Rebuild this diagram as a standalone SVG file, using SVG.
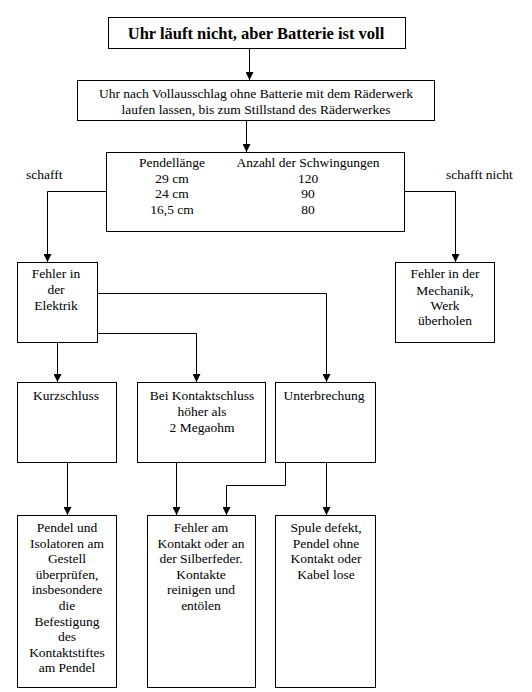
<svg xmlns="http://www.w3.org/2000/svg" width="532" height="692" viewBox="0 0 532 692" font-family="'Liberation Serif', 'Times New Roman', 'DejaVu Serif', serif">
<defs>
<marker id="ah" markerWidth="8" markerHeight="8" refX="8" refY="4" orient="auto" markerUnits="userSpaceOnUse" viewBox="0 0 8 8">
<path d="M0,0 L8,4 L0,8 Z" fill="#000"/>
</marker>
</defs>
<style>
rect{fill:#fff;stroke:#000;stroke-width:1}
text{font-family:'Liberation Serif','Times New Roman','DejaVu Serif',serif;font-size:13.5px;fill:#000;text-anchor:middle}
.t{font-size:16.5px;font-weight:bold}
.l{text-anchor:start}
.c{fill:none;stroke:#000;stroke-width:1}
</style>
<rect width="532" height="692" style="fill:#fff;stroke:none"/>
<g id="n1">
<rect x="108.5" y="17.5" width="297" height="31"/>
<text class="t" x="256" y="39">Uhr läuft nicht, aber Batterie ist voll</text>
</g>
<g id="n2">
<rect x="77.5" y="80.5" width="357" height="40"/>
<text x="256" y="97.5">Uhr nach Vollausschlag ohne Batterie mit dem Räderwerk</text>
<text x="256" y="113.5">laufen lassen, bis zum Stillstand des Räderwerkes</text>
</g>
<g id="n3">
<rect x="106.5" y="152.5" width="298" height="79"/>
<text x="172" y="167">Pendellänge</text>
<text x="172" y="183">29 cm</text>
<text x="172" y="198">24 cm</text>
<text x="172" y="214">16,5 cm</text>
<text x="308" y="167">Anzahl der Schwingungen</text>
<text x="308" y="183">120</text>
<text x="308" y="198">90</text>
<text x="308" y="214">80</text>
</g>
<g id="lbl-schafft"><text class="l" x="26" y="179">schafft</text></g>
<g id="lbl-schafft-nicht"><text class="l" x="446" y="179">schafft nicht</text></g>
<g id="n-elektrik">
<rect x="17.5" y="262.5" width="80" height="80"/>
<text x="56" y="278">Fehler in</text>
<text x="56" y="294">der</text>
<text x="56" y="310">Elektrik</text>
</g>
<g id="n-mechanik">
<rect x="395.5" y="262.5" width="99" height="80"/>
<text x="445" y="278">Fehler in der</text>
<text x="445" y="295">Mechanik,</text>
<text x="445" y="310">Werk</text>
<text x="445" y="325">überholen</text>
</g>
<g id="n-kurz">
<rect x="17.5" y="382.5" width="99" height="80"/>
<text x="66" y="400">Kurzschluss</text>
</g>
<g id="n-kontakt">
<rect x="137.5" y="382.5" width="128" height="80"/>
<text x="202" y="400">Bei Kontaktschluss</text>
<text x="202" y="416">höher als</text>
<text x="202" y="432">2 Megaohm</text>
</g>
<g id="n-unter">
<rect x="275.5" y="382.5" width="100" height="80"/>
<text x="324" y="400">Unterbrechung</text>
</g>
<g id="n-pendel">
<rect x="17.5" y="515.5" width="99" height="172"/>
<text x="67" y="532">Pendel und</text>
<text x="67" y="547.6">Isolatoren am</text>
<text x="67" y="563.2">Gestell</text>
<text x="67" y="578.8">überprüfen,</text>
<text x="67" y="594.4">insbesondere</text>
<text x="67" y="610">die</text>
<text x="67" y="625.6">Befestigung</text>
<text x="67" y="641.2">des</text>
<text x="67" y="656.8">Kontaktstiftes</text>
<text x="67" y="672.4">am Pendel</text>
</g>
<g id="n-fehleram">
<rect x="147.5" y="515.5" width="108" height="172"/>
<text x="201" y="532">Fehler am</text>
<text x="201" y="547.6">Kontakt oder an</text>
<text x="201" y="563.2">der Silberfeder.</text>
<text x="201" y="578.8">Kontakte</text>
<text x="201" y="594.4">reinigen und</text>
<text x="201" y="610">entölen</text>
</g>
<g id="n-spule">
<rect x="275.5" y="515.5" width="100" height="172"/>
<text x="326" y="532">Spule defekt,</text>
<text x="326" y="547.6">Pendel ohne</text>
<text x="326" y="563.2">Kontakt oder</text>
<text x="326" y="578.8">Kabel lose</text>
</g>
<g id="connectors">
<path class="c" d="M249.5,49 V80" marker-end="url(#ah)"/>
<path class="c" d="M246.5,121 V152" marker-end="url(#ah)"/>
<path class="c" d="M106,191.5 H47.5 V262" marker-end="url(#ah)"/>
<path class="c" d="M405,191.5 H455.5 V262" marker-end="url(#ah)"/>
<path class="c" d="M97,293.5 H326.5 V382" marker-end="url(#ah)"/>
<path class="c" d="M97,333.5 H196.5 V382" marker-end="url(#ah)"/>
<path class="c" d="M57.5,343 V382" marker-end="url(#ah)"/>
<path class="c" d="M67.5,463 V515" marker-end="url(#ah)"/>
<path class="c" d="M176.5,463 V515" marker-end="url(#ah)"/>
<path class="c" d="M285.5,463 V485.5 H226.5 V515" marker-end="url(#ah)"/>
<path class="c" d="M326.5,463 V515" marker-end="url(#ah)"/>
</g>
</svg>
